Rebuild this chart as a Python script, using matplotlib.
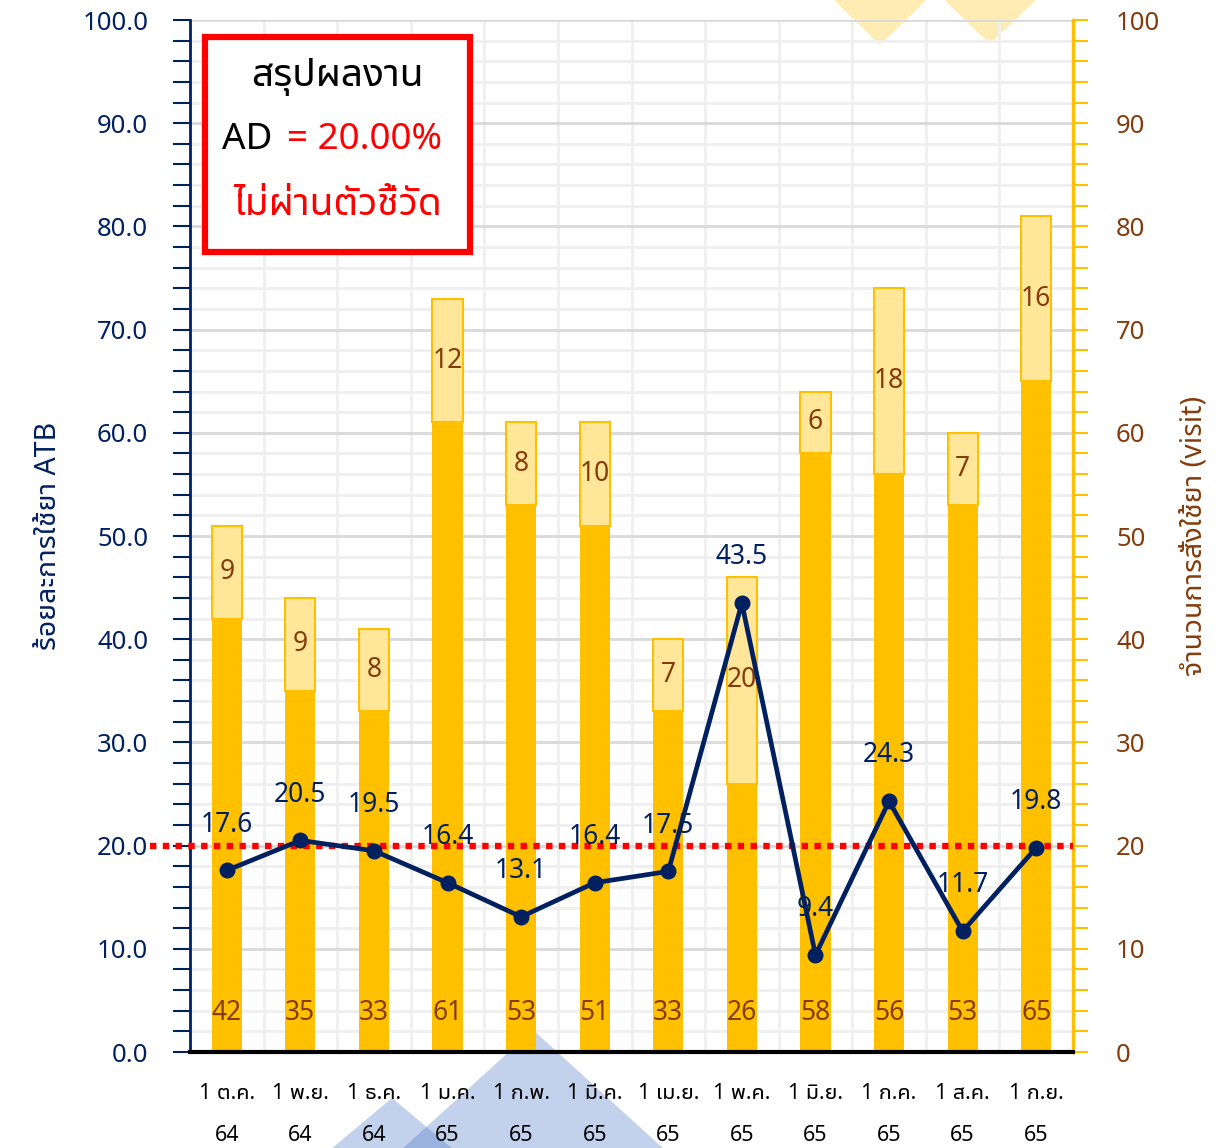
import matplotlib
matplotlib.use('Agg')
import matplotlib.pyplot as plt
import numpy as np
from matplotlib import font_manager, ft2font
from matplotlib.patches import Polygon, Rectangle
from matplotlib.ticker import MultipleLocator, FormatStrFormatter

# หา font ที่มีอักษรไทย
prefer = ['Tahoma', 'Leelawadee', 'Noto Sans Thai', 'Loma', 'Garuda', 'Waree', 'Umpush', 'Sarabun', 'Kinnari']
thai_fonts = []
for f in font_manager.fontManager.ttflist:
    try:
        cmap = ft2font.FT2Font(f.fname).get_charmap()
    except Exception:
        continue
    if 0x0E2A in cmap and 0x0E49 in cmap:
        thai_fonts.append(f.name)
thai_fonts = sorted(set(thai_fonts), key=lambda n: next((i for i, p in enumerate(prefer) if p.lower() in n.lower()), 99))
plt.rcParams['font.family'] = ['Noto Sans'] + thai_fonts[:1] + ['DejaVu Sans']

# ข้อมูล
months = ['1 ต.ค.', '1 พ.ย.', '1 ธ.ค.', '1 ม.ค.', '1 ก.พ.', '1 มี.ค.', '1 เม.ย.',
          '1 พ.ค.', '1 มิ.ย.', '1 ก.ค.', '1 ส.ค.', '1 ก.ย.']
years = ['64', '64', '64', '65', '65', '65', '65', '65', '65', '65', '65', '65']
visits_no_atb = [42, 35, 33, 61, 53, 51, 33, 26, 58, 56, 53, 65]
visits_atb = [9, 9, 8, 12, 8, 10, 7, 20, 6, 18, 7, 16]
atb_percent = [17.6, 20.5, 19.5, 16.4, 13.1, 16.4, 17.5, 43.5, 9.4, 24.3, 11.7, 19.8]
target = 20.0

navy = '#002060'
brown = '#843C0C'
gold = '#FFC000'
light_gold = '#FFE699'

W, H = 1231, 1148
fig = plt.figure(figsize=(W / 100, H / 100), dpi=100)

# สามเหลี่ยมตกแต่งพื้นหลัง
def px(pts):
    return [(x / W, 1 - y / H) for x, y in pts]

for pts, col, a in [
    ([(803, -30), (957, -30), (880, 45)], '#FFE699', 0.75),
    ([(913, -30), (1067, -30), (990, 44)], '#FFE699', 0.75),
    ([(533, 1030), (390, 1160), (676, 1160)], '#4472C4', 0.32),
    ([(392, 1098), (318, 1160), (466, 1160)], '#4472C4', 0.32),
]:
    fig.add_artist(Polygon(px(pts), closed=True, transform=fig.transFigure,
                           facecolor=col, alpha=a, edgecolor='none', zorder=-5))

ax = fig.add_axes([190 / W, 1 - 1052 / H, 883 / W, 1032 / H])
ax2 = ax.twinx()
ax.set_zorder(2)
ax2.set_zorder(1)
ax.patch.set_visible(False)
ax2.patch.set_visible(False)

x = np.arange(len(months))

# แท่งจำนวนการสั่งใช้ยา (แกนขวา)
ax2.bar(x, visits_no_atb, width=0.41, color=gold, zorder=2)
ax2.bar(x, visits_atb, width=0.41, bottom=visits_no_atb, color=light_gold,
        edgecolor=gold, linewidth=1.5, zorder=2)
for i in x:
    ax2.text(i, 3.8, str(visits_no_atb[i]), ha='center', va='center', fontsize=19, color=brown, zorder=3)
    ax2.text(i, visits_no_atb[i] + visits_atb[i] / 2, str(visits_atb[i]), ha='center', va='center',
             fontsize=19, color=brown, zorder=3)

# เส้นตาราง
ax2.set_axisbelow(True)
ax2.yaxis.set_major_locator(MultipleLocator(10))
ax2.yaxis.set_minor_locator(MultipleLocator(2))
ax2.grid(True, which='minor', axis='y', color='#EFEFEF', linewidth=2, zorder=0)
ax2.grid(True, which='major', axis='y', color='#D9D9D9', linewidth=2, zorder=0)
for b in np.arange(0.5, 11, 1):
    ax2.axvline(b, color='#EFEFEF', linewidth=2, zorder=0)

# เส้นร้อยละ (แกนซ้าย)
ax.axhline(target, xmin=-0.045, xmax=1, color='red', linewidth=4.6, linestyle=(0, (1, 1)),
           dash_capstyle='butt', clip_on=False, zorder=3)
ax.plot(x, atb_percent, color=navy, linewidth=3.4, marker='o', markersize=10.5, zorder=4)
for i, v in zip(x, atb_percent):
    ax.annotate(f'{v:.1f}', (i, v), textcoords='offset points', xytext=(0, 33), ha='center', va='center',
                fontsize=19, color=navy, zorder=5)

for a in (ax, ax2):
    a.set_xlim(-0.5, 11.5)
    a.set_ylim(0, 100)

ax.yaxis.set_major_locator(MultipleLocator(10))
ax.yaxis.set_minor_locator(MultipleLocator(2))
ax.yaxis.set_major_formatter(FormatStrFormatter('%.1f'))
ax.tick_params(axis='y', which='both', direction='out', length=12, width=1.5, color=navy,
               labelcolor=navy, labelsize=18.5, pad=18)
ax2.tick_params(axis='y', which='both', direction='out', length=11, width=1.5, color=gold,
                labelcolor=brown, labelsize=18.5, pad=20)

for a in (ax, ax2):
    a.spines['top'].set_visible(False)
ax.spines['right'].set_visible(False)
ax.spines['left'].set_color(navy)
ax.spines['left'].set_linewidth(2)
ax2.spines['left'].set_visible(False)
ax2.spines['right'].set_color(gold)
ax2.spines['right'].set_linewidth(2.5)
ax.spines['bottom'].set_color('black')
ax.spines['bottom'].set_linewidth(3)
ax2.spines['bottom'].set_visible(False)

ax.set_xticks(x)
ax.set_xticklabels([f'{m}\n{y}' for m, y in zip(months, years)], fontsize=15.5, color='black',
                   fontweight='bold', linespacing=2.35)
ax.tick_params(axis='x', length=0, pad=22)
ax2.tick_params(axis='x', length=0, labelbottom=False)

ax.set_ylabel('ร้อยละการใช้ยา ATB', fontsize=20.5, color=navy, fontweight='bold', labelpad=14)
ax2.set_ylabel('จำนวนการสั่งใช้ยา (visit)', fontsize=20.5, color=brown, labelpad=14)

# กล่องสรุปผล
ax.add_patch(Rectangle((0.017, 0.775), 0.30, 0.2085, transform=ax.transAxes, fill=True,
                       facecolor='white', edgecolor='red', linewidth=4.5, zorder=6, clip_on=False))
ax.text(0.167, 0.945, 'สรุปผลงาน', transform=ax.transAxes, ha='center', va='center',
        fontsize=28, color='black', zorder=7)
ax.text(0.0935, 0.884, 'AD', transform=ax.transAxes, ha='right', va='center',
        fontsize=26.5, color='black', zorder=7)
ax.text(0.110, 0.884, '= 20.00%', transform=ax.transAxes, ha='left', va='center',
        fontsize=26.5, color='red', zorder=7)
ax.text(0.167, 0.821, 'ไม่ผ่านตัวชี้วัด', transform=ax.transAxes, ha='center', va='center',
        fontsize=28, color='red', zorder=7)

fig.savefig('out.png', dpi=100)
